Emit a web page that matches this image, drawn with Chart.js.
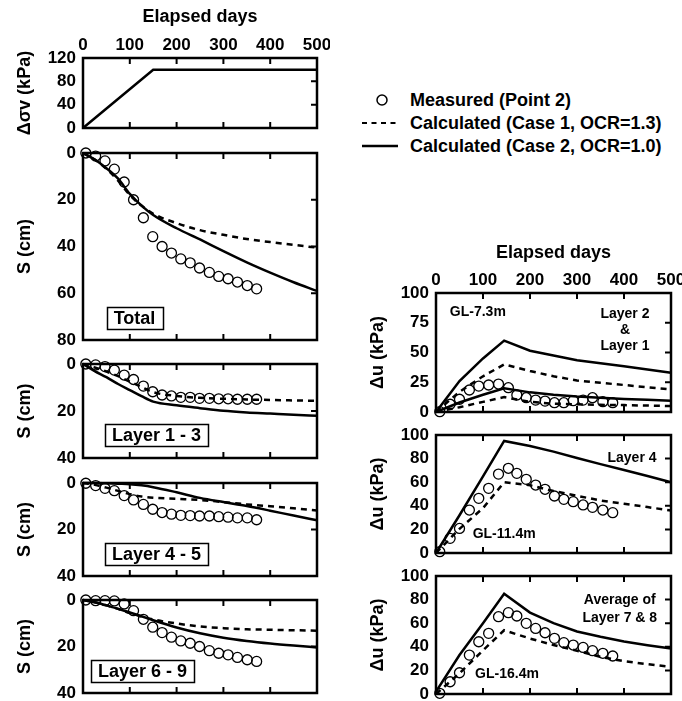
<!DOCTYPE html>
<html>
<head>
<meta charset="utf-8">
<script src="https://cdn.jsdelivr.net/npm/chart.js@4/dist/chart.umd.min.js"></script>
<style>
  body { margin: 0; background: #fff; }
  #page { position: relative; width: 682px; height: 701px; overflow: hidden; background: #fff;
          font-family: "Liberation Sans", Arial, sans-serif; font-weight: bold; color: #000; }
  canvas { position: absolute; }
  .lt { position: absolute; left: 410px; font-size: 18px; line-height: 20px; white-space: nowrap; }
  #legmarks { position: absolute; left: 355px; top: 88px; }
</style>
</head>
<body>
<div id="page">
  <canvas id="cLoad"  width="330" height="138" style="left:0;top:0"></canvas>
  <canvas id="cTotal" width="330" height="210" style="left:0;top:140px"></canvas>
  <canvas id="cL13"   width="330" height="116" style="left:0;top:352px"></canvas>
  <canvas id="cL45"   width="330" height="116" style="left:0;top:470px"></canvas>
  <canvas id="cL69"   width="330" height="113" style="left:0;top:588px"></canvas>
  <canvas id="cU1"    width="342" height="182" style="left:340px;top:240px"></canvas>
  <canvas id="cU2"    width="342" height="140" style="left:340px;top:423px"></canvas>
  <canvas id="cU3"    width="342" height="136" style="left:340px;top:565px"></canvas>

  <svg id="legmarks" width="50" height="70">
    <circle cx="27" cy="12" r="5" fill="none" stroke="#000" stroke-width="1.5"/>
    <line x1="7" y1="35" x2="43" y2="35" stroke="#000" stroke-width="2" stroke-dasharray="5,4.5"/>
    <line x1="7" y1="58" x2="43" y2="58" stroke="#000" stroke-width="2.5"/>
  </svg>
  <div class="lt" style="top:90px">Measured (Point 2)</div>
  <div class="lt" style="top:113px">Calculated (Case 1, OCR=1.3)</div>
  <div class="lt" style="top:136px">Calculated (Case 2, OCR=1.0)</div>
</div>

<script>
// ---- data ----
// applied load
const loadDays = [0, 150, 500];
const loadKPa = [0, 100, 100];

// measured settlement (Point 2), days since start
const measDays = [6, 27, 47, 67, 88, 108, 129, 149, 169, 189, 209, 229, 249, 270, 290, 310, 330, 351, 371];
const totalMeas = [0, 1.3, 3.4, 6.9, 12.4, 20, 27.7, 35.8, 40, 42.8, 45.3, 47, 49.2, 51.1, 52.8, 53.8, 55.2, 56.7, 58.1];
const layer13Meas = [0, 0.4, 1.1, 2.6, 4.7, 6.6, 9.4, 11.8, 13.2, 13.6, 14.2, 14.2, 14.6, 14.6, 14.8, 14.8, 15, 15, 15];
const layer45Meas = [0.1, 1.1, 2.3, 3.3, 5.4, 7.3, 9.2, 11.3, 12.7, 13.4, 13.9, 14.0, 14.2, 14.2, 14.5, 14.7, 15, 15, 15.8];
const layer69Meas = [0, 0.3, 0.3, 0.4, 1.7, 4.6, 8.3, 11.7, 14, 16, 17.6, 18.6, 20, 21.8, 22.9, 23.6, 24.7, 25.7, 26.4];

// calculated settlement
const calcDays = [0, 25, 50, 75, 100, 125, 150, 200, 250, 300, 350, 400, 450, 500];
const totalCase1 = [0, 2.8, 6.8, 11.8, 18, 22.5, 26, 30, 33, 35, 36.8, 38.1, 39.3, 40.5];
const totalCase2 = [0, 2.8, 6.5, 11, 17.5, 22.5, 26.5, 32.2, 37, 42, 46.8, 51.2, 55.3, 59];
const layer13Case1 = [0, 1.5, 3.2, 5.2, 7.5, 9.8, 12, 13.6, 14.4, 14.8, 15.1, 15.3, 15.5, 15.7];
const layer13Case2 = [0, 3.0, 5.6, 8.5, 11.1, 13.7, 16, 17.6, 18.8, 19.9, 20.6, 21.1, 21.6, 22];
const layer45Case1 = [0, 0.8, 2, 3.4, 4.8, 5.8, 6.3, 6.8, 7.3, 8.2, 9.2, 10, 10.9, 11.8];
const layer45Case2 = [0, 0, 0.1, 0.3, 0.5, 1.0, 1.8, 4.0, 6.4, 8.2, 9.9, 11.9, 14, 16];
const layer69Case1 = [0, 1.0, 2.3, 3.8, 5.6, 7.1, 8.4, 10.1, 11.4, 12.1, 12.6, 12.8, 13.0, 13.2];
const layer69Case2 = [0, 1.0, 2.3, 3.8, 5.4, 7.0, 8.7, 11.8, 14.3, 16.2, 17.6, 18.7, 19.6, 20.4];

// excess pore pressure
const measDaysU = [8, 30, 50, 71, 91, 112, 133, 154, 172, 192, 212, 232, 252, 272, 292, 313, 333, 355, 376];
const layer2Meas = [0.3, 6.5, 10.7, 18.5, 21.8, 22.7, 23.5, 20.4, 14.3, 12, 10, 9.2, 7.8, 7.8, 9.5, 10, 12, 8.7, 7.8];
const layer4Meas = [1.1, 12.4, 20.8, 36.4, 46.3, 54.8, 66.9, 71.8, 67.5, 62.4, 57.6, 54, 48.3, 45.5, 43.5, 40.7, 38.7, 36.4, 34.2];
const layer78Meas = [0.6, 10.4, 18, 33, 44.3, 51.4, 65.5, 68.9, 66.1, 59.9, 55.6, 51.9, 47.2, 43.5, 41.5, 39.5, 36.7, 34.5, 32.2];

const calcDaysU = [0, 50, 100, 145, 200, 250, 300, 350, 400, 450, 500];
const layer2Case1 = [0, 17, 30, 40, 34.5, 30, 26.5, 24.5, 22.7, 20.8, 19];
const layer2Case2 = [0, 26, 45, 60, 51.5, 47.5, 43.5, 41, 38.5, 35.8, 33];
const layer1Case1 = [0, 4, 8.5, 12.5, 8.5, 7, 6.5, 6, 5.8, 5.4, 5];
const layer1Case2 = [0, 8, 14.5, 20, 16.5, 14.5, 13, 12, 11, 10.2, 9.5];
const layer4Case1 = [0, 20.5, 38, 60, 57.4, 52.5, 48.5, 44.5, 41.8, 38.9, 36];
const layer4Case2 = [0, 32, 65, 95, 90.7, 85.9, 80.5, 75.3, 70.4, 65.3, 60];
const layer78Case1 = [0, 17.5, 37, 54, 47, 41.5, 36.7, 31.5, 27.8, 25.3, 23];
const layer78Case2 = [2, 33, 60, 85, 69, 60, 53, 48.5, 44.5, 41.3, 38.5];

// ---- chart setup ----
Chart.defaults.font.family = '"Liberation Sans", Arial, sans-serif';
Chart.defaults.font.weight = 'bold';
Chart.defaults.font.size = 17;
Chart.defaults.color = '#000';

const pts = (xs, ys) => xs.map((x, i) => ({ x: x, y: ys[i] }));

function measured(xs, ys) {
    return {
        data: pts(xs, ys), showLine: false,
        pointRadius: 5, pointBorderWidth: 1.3,
        pointBorderColor: '#000', pointBackgroundColor: 'rgba(0,0,0,0)',
        clip: false
    };
}

function calculated(xs, ys, dashed, smooth) {
    return {
        data: pts(xs, ys), borderColor: '#000', borderWidth: 2.5,
        borderDash: dashed ? [6, 5] : [], pointRadius: 0,
        cubicInterpolationMode: smooth ? 'monotone' : 'default', tension: 0,
        fill: false, clip: false
    };
}

// box around the plot area with small inward ticks
const framePlugin = {
    id: 'panelFrame',
    beforeDatasetsDraw(chart) {
        const { ctx, chartArea: a, scales: { x, y } } = chart;
        ctx.save();
        ctx.strokeStyle = '#000';
        ctx.lineWidth = 2.5;
        ctx.strokeRect(a.left, a.top, a.right - a.left, a.bottom - a.top);
        ctx.lineWidth = 2;
        ctx.beginPath();
        x.ticks.forEach(t => {
            if (t.value <= x.min || t.value >= x.max) return;
            const px = x.getPixelForValue(t.value);
            ctx.moveTo(px, a.top); ctx.lineTo(px, a.top + 6);
            ctx.moveTo(px, a.bottom); ctx.lineTo(px, a.bottom - 6);
        });
        y.ticks.forEach(t => {
            if (t.value <= y.min || t.value >= y.max) return;
            const py = y.getPixelForValue(t.value);
            ctx.moveTo(a.right, py); ctx.lineTo(a.right - 6, py);
        });
        ctx.stroke();
        ctx.restore();
    }
};

// text notes inside the panels, placed in data coordinates
const notePlugin = {
    id: 'panelNotes',
    afterDatasetsDraw(chart, args, opts) {
        const { ctx, scales: { x, y } } = chart;
        (opts.items || []).forEach(it => {
            ctx.save();
            ctx.font = 'bold ' + it.size + 'px "Liberation Sans", Arial, sans-serif';
            ctx.fillStyle = '#000';
            ctx.textAlign = 'center';
            ctx.textBaseline = 'middle';
            const px = x.getPixelForValue(it.x);
            const py = y.getPixelForValue(it.y);
            if (it.box) {
                const w = ctx.measureText(it.text).width + 14;
                const h = it.size + 4;
                ctx.lineWidth = 1.5;
                ctx.strokeStyle = '#000';
                ctx.strokeRect(Math.round(px - w / 2) + 0.5, Math.round(py - h / 2) + 0.5, Math.round(w), h);
            }
            ctx.fillText(it.text, px, py + 1);
            ctx.restore();
        });
    }
};

function makePanel(id, p) {
    return new Chart(document.getElementById(id), {
        type: 'line',
        data: { datasets: p.datasets },
        options: {
            responsive: false,
            animation: false,
            events: [],
            layout: { padding: p.padding },
            plugins: {
                legend: { display: false },
                tooltip: { enabled: false },
                panelNotes: { items: p.notes || [] }
            },
            scales: {
                x: {
                    type: 'linear', position: 'top', min: 0, max: 500,
                    display: !!p.xHeight,
                    ticks: { stepSize: 100, padding: 2, autoSkip: false, maxRotation: 0 },
                    grid: { display: false, drawTicks: false },
                    border: { display: false },
                    title: { display: true, text: 'Elapsed days', font: { size: 18, weight: 'bold' },
                             padding: { top: p.xTitlePad || 0, bottom: 0 } },
                    afterFit: s => {
                        s.height = p.xHeight || 0;
                        s.paddingLeft = 0; s.paddingRight = 0;
                    }
                },
                y: {
                    type: 'linear', min: p.yMin, max: p.yMax, reverse: !!p.reverse,
                    ticks: { stepSize: p.yStep, padding: 7, autoSkip: false },
                    grid: { display: false, drawTicks: false },
                    border: { display: false },
                    title: { display: true, text: p.yTitle, font: { size: 18, weight: 'bold' },
                             padding: { top: p.yTitlePad, bottom: 0 } },
                    afterFit: s => {
                        s.width = p.yWidth;
                        s.paddingTop = 0; s.paddingBottom = 0;
                    }
                }
            }
        },
        plugins: [framePlugin, notePlugin]
    });
}

const leftBase = { yWidth: 83, yTitlePad: 14 };
const rightBase = { yWidth: 96, yTitlePad: 27 };

makePanel('cLoad', Object.assign({}, leftBase, {
    padding: { top: 0, bottom: 10, left: 0, right: 13 },
    xHeight: 58, xTitlePad: 6,
    yMin: 0, yMax: 120, yStep: 40, yTitle: 'Δσv (kPa)',
    datasets: [calculated(loadDays, loadKPa, false, false)]
}));

makePanel('cTotal', Object.assign({}, leftBase, {
    padding: { top: 13, bottom: 10, left: 0, right: 13 },
    yMin: 0, yMax: 80, yStep: 20, reverse: true, yTitle: 'S (cm)',
    datasets: [
        measured(measDays, totalMeas),
        calculated(calcDays, totalCase1, true, true),
        calculated(calcDays, totalCase2, false, true)
    ],
    notes: [{ text: 'Total', x: 110, y: 70.6, size: 18, box: true }]
}));

makePanel('cL13', Object.assign({}, leftBase, {
    padding: { top: 12, bottom: 10, left: 0, right: 13 },
    yMin: 0, yMax: 40, yStep: 20, reverse: true, yTitle: 'S (cm)',
    datasets: [
        measured(measDays, layer13Meas),
        calculated(calcDays, layer13Case1, true, true),
        calculated(calcDays, layer13Case2, false, true)
    ],
    notes: [{ text: 'Layer 1 - 3', x: 157, y: 30.2, size: 18, box: true }]
}));

makePanel('cL45', Object.assign({}, leftBase, {
    padding: { top: 13, bottom: 10, left: 0, right: 13 },
    yMin: 0, yMax: 40, yStep: 20, reverse: true, yTitle: 'S (cm)',
    datasets: [
        measured(measDays, layer45Meas),
        calculated(calcDays, layer45Case1, true, true),
        calculated(calcDays, layer45Case2, false, true)
    ],
    notes: [{ text: 'Layer 4 - 5', x: 157, y: 30.5, size: 18, box: true }]
}));

makePanel('cL69', Object.assign({}, leftBase, {
    padding: { top: 12, bottom: 8, left: 0, right: 13 },
    yMin: 0, yMax: 40, yStep: 20, reverse: true, yTitle: 'S (cm)',
    datasets: [
        measured(measDays, layer69Meas),
        calculated(calcDays, layer69Case1, true, true),
        calculated(calcDays, layer69Case2, false, true)
    ],
    notes: [{ text: 'Layer 6 - 9', x: 127, y: 30.5, size: 18, box: true }]
}));

makePanel('cU1', Object.assign({}, rightBase, {
    padding: { top: 0, bottom: 10, left: 0, right: 11 },
    xHeight: 53, xTitlePad: 2,
    yMin: 0, yMax: 100, yStep: 25, yTitle: 'Δu (kPa)',
    datasets: [
        measured(measDaysU, layer2Meas),
        calculated(calcDaysU, layer2Case1, true, false),
        calculated(calcDaysU, layer2Case2, false, false),
        calculated(calcDaysU, layer1Case1, true, false),
        calculated(calcDaysU, layer1Case2, false, false)
    ],
    notes: [
        { text: 'GL-7.3m', x: 89, y: 84.5, size: 14 },
        { text: 'Layer 2', x: 402, y: 83, size: 14 },
        { text: '&', x: 402, y: 69.5, size: 14 },
        { text: 'Layer 1', x: 402, y: 56, size: 14 }
    ]
}));

makePanel('cU2', Object.assign({}, rightBase, {
    padding: { top: 12, bottom: 10, left: 0, right: 11 },
    yMin: 0, yMax: 100, yStep: 20, yTitle: 'Δu (kPa)',
    datasets: [
        measured(measDaysU, layer4Meas),
        calculated(calcDaysU, layer4Case1, true, false),
        calculated(calcDaysU, layer4Case2, false, false)
    ],
    notes: [
        { text: 'Layer 4', x: 417, y: 81.6, size: 14 },
        { text: 'GL-11.4m', x: 145, y: 16.7, size: 14 }
    ]
}));

makePanel('cU3', Object.assign({}, rightBase, {
    padding: { top: 11, bottom: 7, left: 0, right: 11 },
    yMin: 0, yMax: 100, yStep: 20, yTitle: 'Δu (kPa)',
    datasets: [
        measured(measDaysU, layer78Meas),
        calculated(calcDaysU, layer78Case1, true, false),
        calculated(calcDaysU, layer78Case2, false, false)
    ],
    notes: [
        { text: 'Average of', x: 391, y: 80.5, size: 14 },
        { text: 'Layer 7 & 8', x: 391, y: 64.8, size: 14 },
        { text: 'GL-16.4m', x: 151, y: 17.5, size: 14 }
    ]
}));
</script>
</body>
</html>
